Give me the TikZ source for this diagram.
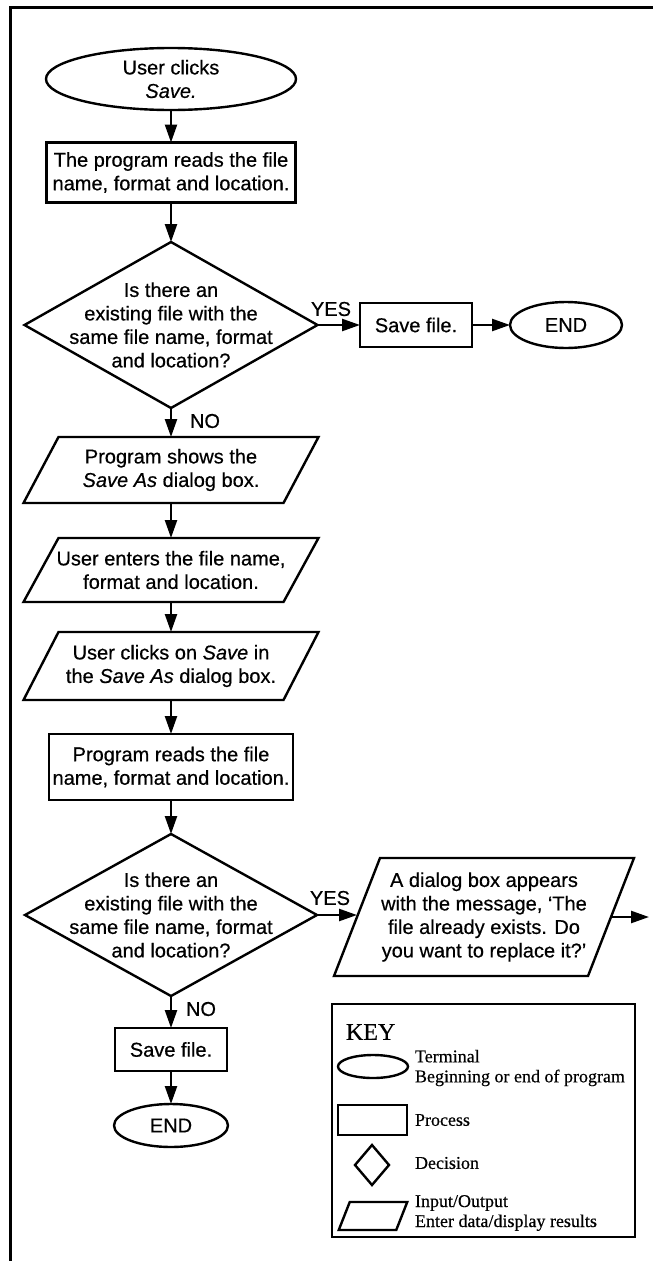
\documentclass[tikz,border=0pt]{standalone}
\usepackage{fontspec}
\setmainfont{Liberation Sans}[FakeBold=0.5]
\newfontfamily\keyfont{Liberation Serif}[FakeBold=0.4]
\usetikzlibrary{arrows.meta,shapes.geometric,calc}
\newcommand\ioshape[2]{\draw[shp] ([xshift=#2pt]#1.north west) -- ([xshift=#2pt]#1.north east) -- ([xshift=-#2pt]#1.south east) -- ([xshift=-#2pt]#1.south west) -- cycle;}
\newcommand\diashape[1]{\draw[shp] (#1.north) -- (#1.east) -- (#1.south) -- (#1.west) -- cycle;}
\begin{document}
\begin{tikzpicture}[x=1pt,y=-1pt,
  every node/.style={inner sep=0pt, outer sep=0pt},
  txt/.style={font=\fontsize{20}{23.5}\selectfont, align=center},
  term/.style={txt, draw, ellipse, line width=2.4pt},
  proc/.style={txt, draw, rectangle, line width=2.4pt},
  hold/.style={txt, rectangle},
  shp/.style={line width=2.4pt, line join=miter},
  arr/.style={line width=2.4pt, -{Triangle[length=18pt,width=12pt]}},
  lbl/.style={font=\fontsize{20}{23.5}\selectfont},
  keytxt/.style={font=\keyfont\fontsize{18}{20}\selectfont, align=left, anchor=west},
]
\useasboundingbox[fill=white] (0,0) rectangle (653,1261);
% frame
\draw[line width=3pt] (10,1261) -- (10,7.5) -- (653,7.5);

% main flow
\node[term, minimum width=250pt, minimum height=62pt] (start) at (171,79) {User clicks\\\textit{Save.}};
\node[proc, minimum width=249pt, minimum height=60pt] (read1) at (171,172.5) {The program reads the file\\name, format and location.};
\node[hold, minimum width=293pt, minimum height=166pt] (dec1) at (171,325) {Is there an\\existing file with the\\same file name, format\\and location?};
\diashape{dec1}
\node[proc, minimum width=112pt, minimum height=44pt] (save1) at (416,325) {Save file.};
\node[term, minimum width=112pt, minimum height=46pt] (end1) at (566,325) {END};
\node[hold, minimum width=260pt, minimum height=66pt] (io1) at (171,470) {Program shows the\\\textit{Save As} dialog box.};
\ioshape{io1}{17.5}
\node[hold, minimum width=260pt, minimum height=64pt] (io2) at (171,570) {User enters the file name,\\format and location.};
\ioshape{io2}{17.5}
\node[hold, minimum width=260pt, minimum height=68pt] (io3) at (171,666) {User clicks on \textit{Save} in\\the \textit{Save As} dialog box.};
\ioshape{io3}{17.5}
\node[proc, minimum width=244pt, minimum height=66pt] (read2) at (171,767) {Program reads the file\\name, format and location.};
\node[hold, minimum width=292pt, minimum height=162pt] (dec2) at (171,915) {Is there an\\existing file with the\\same file name, format\\and location?};
\diashape{dec2}
\node[hold, minimum width=254pt, minimum height=118pt] (msg) at (484,917) {A dialog box appears\\with the message, ‘The\\file already exists. Do\\you want to replace it?’};
\ioshape{msg}{23}
\coordinate (out) at (649,917);
\node[proc, minimum width=112pt, minimum height=43pt] (save2) at (171,1049.5) {Save file.};
\node[term, minimum width=114pt, minimum height=43pt] (end2) at (171,1125.5) {END};

% labels
\node[lbl] (yes1) at (331,309) {YES};
\node[lbl] (no1) at (205,421) {NO};
\node[lbl] (yes2) at (330,898) {YES};
\node[lbl] (no2) at (201,1009) {NO};

% connectors
\draw[arr] (start.south) -- (read1.north);
\draw[arr] (read1.south) -- (dec1.north);
\draw[arr] (dec1.east) -- (save1.west);
\draw[arr] (save1.east) -- (end1.west);
\draw[arr] (dec1.south) -- (io1.north);
\draw[arr] (io1.south) -- (io2.north);
\draw[arr] (io2.south) -- (io3.north);
\draw[arr] (io3.south) -- (read2.north);
\draw[arr] (read2.south) -- (dec2.north);
\draw[arr] (dec2.east) -- (dec2.east -| msg.west);
\draw[arr] (msg.east) -- (out);
\draw[arr] (dec2.south) -- (save2.north);
\draw[arr] (save2.south) -- (end2.north);

% key
\node[draw, line width=1.4pt, minimum width=303pt, minimum height=233pt] (keybox) at (483.5,1120.5) {};
\node[font=\keyfont\fontsize{24}{28}\selectfont, anchor=west] (keyt) at (346,1032) {KEY};
\node[draw, ellipse, line width=2.4pt, minimum width=70pt, minimum height=23pt] (kterm) at (373,1066.5) {};
\node[keytxt] (ktermt) at (415,1068) {Terminal\\Beginning or end of program};
\node[draw, line width=2.4pt, minimum width=69pt, minimum height=30pt] (kproc) at (372.5,1120) {};
\node[keytxt] (kproct) at (415,1120) {Process};
\node[minimum width=34pt, minimum height=40pt] (kdec) at (372,1165) {};
\diashape{kdec}
\node[keytxt] (kdect) at (415,1163) {Decision};
\node[minimum width=57.5pt, minimum height=28pt] (kio) at (373,1216) {};
\ioshape{kio}{5.5}
\node[keytxt] (kiot) at (415,1213) {Input/Output\\Enter data/display results};
\end{tikzpicture}
\end{document}
